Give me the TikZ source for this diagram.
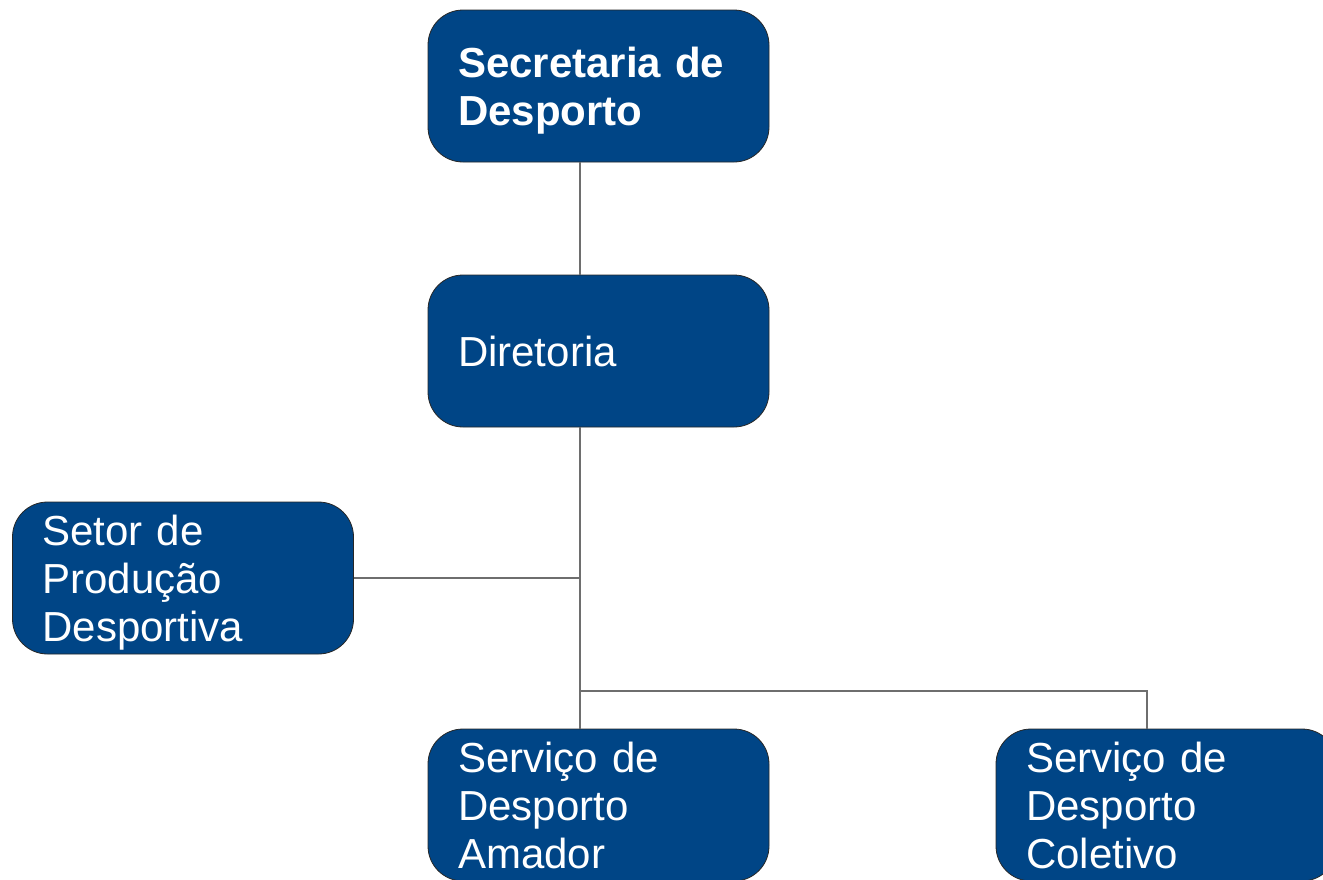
\documentclass[tikz,border=0pt]{standalone}
\usepackage{fontspec}
\setmainfont{Liberation Sans}
\usepackage{tikz}

\definecolor{boxblue}{HTML}{004586}
\definecolor{linkgrey}{HTML}{6E6E6E}

\begin{document}
\begin{tikzpicture}[x = 1pt, y = -1pt,
                    unit/.style = {rectangle, rounded corners = 35pt, draw = black!85, line width = 0.8pt,
                                   fill = boxblue, text = white, minimum width = 341pt, minimum height = 152pt,
                                   text width = 281pt, inner xsep = 30pt, inner ysep = 0pt, align = left,
                                   font = \fontsize{42}{48}\selectfont},
                    lower/.style = {execute at begin node = {\rule{0pt}{39pt}}},
                    link/.style = {draw = linkgrey, line width = 1.3pt}]
      \useasboundingbox (0, 0) rectangle (1323, 879);

      \node [unit, lower, font = \fontsize{42}{48}\selectfont\bfseries] (sec) at (598.5, 86){Secretaria de\\Desporto};
      \node [unit] (dir) at (598.5, 351){Diretoria};
      \node [unit, lower] (setor) at (183, 578){Setor de\\Produção\\Desportiva};
      \node [unit] (amador) at (598.5, 805){Serviço de\\Desporto\\Amador};
      \node [unit] (coletivo) at (1166.5, 805){Serviço de\\Desporto\\Coletivo};

      \coordinate (trunk) at (580, 0);
      \coordinate (fork) at (580, 691);
      \coordinate (drop) at (1147, 691);

      \draw [link] (sec.south -| trunk) -- (dir.north -| trunk);
      \draw [link] (dir.south -| trunk) -- (amador.north -| trunk);
      \draw [link] (setor.east) -- (setor.east -| trunk);
      \draw [link] (fork) -- (drop) -- (drop |- coletivo.north);
\end{tikzpicture}
\end{document}
